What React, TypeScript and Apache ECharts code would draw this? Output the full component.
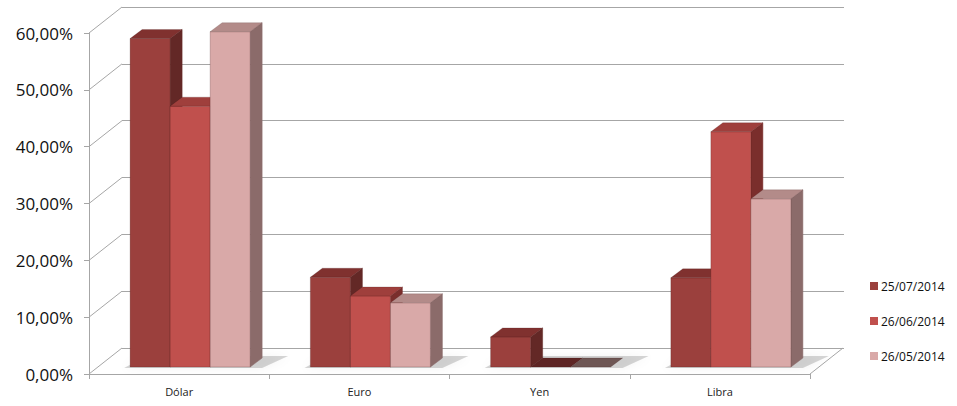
import React, { useEffect, useRef } from "react";
import * as echarts from "echarts";

const categories = ["Dólar", "Euro", "Yen", "Libra"];
const seriesNames = ["25/07/2014", "26/06/2014", "26/05/2014"];
const values0 = [0.578, 0.158, 0.053, 0.157];
const values1 = [0.459, 0.125, 0, 0.414];
const values2 = [0.59, 0.113, 0, 0.296];
const yTicks = [0, 0.1, 0.2, 0.3, 0.4, 0.5, 0.6];

const palette = [
  { front: "#9B403D", top: "#80312F", side: "#632826", flat: "#5E2524" },
  { front: "#C0504D", top: "#9F3F3C", side: "#7A2E2C", flat: "#5E2524" },
  { front: "#D9A9A8", top: "#B38B89", side: "#8B6B6A", flat: "#6E5654" },
];

const FONT = "'Open Sans', 'DejaVu Sans', sans-serif";

export default function App() {
  const ref = useRef<HTMLDivElement>(null);
  useEffect(() => {
    if (!ref.current) return;
    const chart = echarts.init(ref.current, undefined, { renderer: "svg" });
    const allValues = [values0, values1, values2];

    const WALL_DX = 33, WALL_DY = -26;
    const BAR_SHIFT_X = 9, BAR_SHIFT_Y = -7;
    const BAR_DX = 12, BAR_DY = -9;

    const barSeries = allValues.map((vals, s) => ({
      type: "custom",
      name: seriesNames[s],
      xAxisIndex: 0,
      yAxisIndex: 0,
      z: 5 + s,
      itemStyle: { color: palette[s].front },
      data: vals.map((v, i) => [i, v]),
      renderItem: (params: any, api: any) => {
        const i = api.value(0);
        const v = api.value(1);
        const c = api.coord([i, v]);
        const c0 = api.coord([i, 0]);
        const band = api.size([1, 0])[0];
        const w = band * 0.222;
        const left = c0[0] - band * 0.272 + s * w + BAR_SHIFT_X - 9;
        const right = left + w;
        const base = c0[1] + BAR_SHIFT_Y;
        const top = c[1] + BAR_SHIFT_Y;
        const col = palette[s];
        const children: any[] = [];
        if (v > 0) {
          children.push({
            type: "polygon",
            shape: { points: [[right, base], [right + BAR_DX, base + BAR_DY], [right + BAR_DX, top + BAR_DY], [right, top]] },
            style: { fill: col.side, stroke: col.side, lineWidth: 0.5 },
          });
          children.push({
            type: "rect",
            shape: { x: left, y: top, width: w, height: base - top },
            style: { fill: col.front, stroke: "rgba(60,20,20,0.35)", lineWidth: 0.6 },
          });
        }
        children.push({
          type: "polygon",
          shape: { points: [[left, top], [left + BAR_DX, top + BAR_DY], [right + BAR_DX, top + BAR_DY], [right, top]] },
          style: { fill: v > 0 ? col.top : col.flat, stroke: "rgba(60,20,20,0.35)", lineWidth: 0.5 },
        });
        return { type: "group", children };
      },
    }));

    const shadowSeries = {
      type: "custom",
      name: "shadow",
      xAxisIndex: 0,
      yAxisIndex: 0,
      z: 3,
      silent: true,
      data: categories.map((_, i) => [i, Math.max(values0[i], values1[i], values2[i])]),
      renderItem: (params: any, api: any) => {
        const i = api.value(0);
        const c0 = api.coord([i, 0]);
        const band = api.size([1, 0])[0];
        const w = band * 0.222;
        const left = c0[0] - band * 0.272 + BAR_SHIFT_X - 9;
        const right = left + w * 3;
        const base = c0[1] + BAR_SHIFT_Y;
        return {
          type: "polygon",
          shape: {
            points: [
              [left - 6, base + 1],
              [left + BAR_DX + 4, base + BAR_DY - 2],
              [right + BAR_DX + 26, base + BAR_DY - 2],
              [right + 12, base + 1],
            ],
          },
          style: { fill: "rgba(0,0,0,0.16)", shadowBlur: 10, shadowColor: "rgba(0,0,0,0.3)" },
        };
      },
    };

    const wallSeries = {
      type: "custom",
      name: "walls",
      xAxisIndex: 0,
      yAxisIndex: 0,
      z: 1,
      silent: true,
      data: yTicks.map((t) => [0, t]),
      renderItem: (params: any, api: any) => {
        const t = api.value(1);
        const c = api.coord([0, t]);
        const band = api.size([1, 0])[0];
        const x0 = c[0] - band / 2;
        const children: any[] = [
          {
            type: "line",
            shape: { x1: x0, y1: c[1], x2: x0 + WALL_DX, y2: c[1] + WALL_DY },
            style: { stroke: "#A6A6A6", lineWidth: 1 },
          },
        ];
        if (t === 0) {
          const cr = api.coord([categories.length - 1, 0]);
          const xr = cr[0] + band / 2;
          children.push({
            type: "line",
            shape: { x1: xr, y1: cr[1], x2: xr + WALL_DX, y2: cr[1] + WALL_DY },
            style: { stroke: "#A6A6A6", lineWidth: 1 },
          });
        }
        return { type: "group", children };
      },
    };

    chart.setOption({
      animation: false,
      backgroundColor: "#ffffff",
      textStyle: { fontFamily: FONT },
      grid: [
        { left: 89, top: 33, width: 721, height: 341 },
        { left: 122, top: 7, width: 722, height: 341 },
      ],
      xAxis: [
        {
          type: "category",
          gridIndex: 0,
          data: categories,
          axisLine: { lineStyle: { color: "#A6A6A6" } },
          axisTick: { show: true, length: 5, lineStyle: { color: "#A6A6A6" } },
          axisLabel: { fontSize: 11, color: "#222", margin: 12, fontFamily: FONT },
          splitLine: { show: false },
        },
        {
          type: "category",
          gridIndex: 1,
          data: categories,
          show: false,
        },
      ],
      yAxis: [
        {
          type: "value",
          gridIndex: 0,
          min: 0,
          max: 0.6,
          interval: 0.1,
          axisLine: { show: true, lineStyle: { color: "#A6A6A6" } },
          axisTick: { show: true, length: 5, lineStyle: { color: "#A6A6A6" } },
          splitLine: { show: false },
          axisLabel: {
            fontSize: 17,
            color: "#111",
            margin: 16,
            fontFamily: FONT,
            formatter: (v: number) => (v * 100).toFixed(2).replace(".", ",") + "%",
          },
        },
        {
          type: "value",
          gridIndex: 1,
          min: 0,
          max: 0.6,
          interval: 0.1,
          axisLine: { show: false },
          axisTick: { show: false },
          axisLabel: { show: false },
          splitLine: { show: true, lineStyle: { color: "#A6A6A6", width: 1.2 } },
        },
      ],
      legend: {
        data: seriesNames,
        orient: "vertical",
        left: 865,
        top: 275,
        itemGap: 23,
        itemWidth: 8,
        itemHeight: 8,
        icon: "rect",
        textStyle: { fontSize: 12, color: "#111", fontFamily: FONT, padding: [0, 0, 0, -2] },
      },
      series: [wallSeries, shadowSeries, ...barSeries],
    });
    return () => chart.dispose();
  }, []);
  return (
    <div
      ref={ref}
      style={{ position: "fixed", left: 0, top: 0, width: 957, height: 406, background: "#fff" }}
    />
  );
}
